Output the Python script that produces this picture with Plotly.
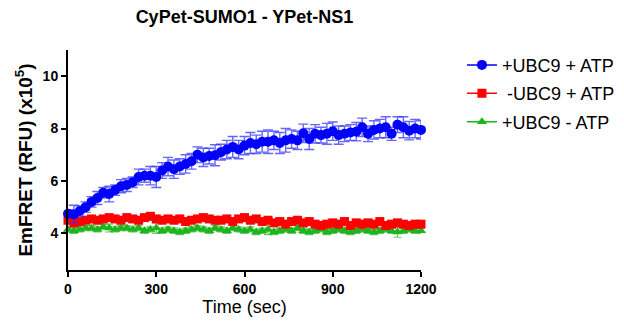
import plotly.graph_objects as go

time_sec = list(range(0, 1201, 20))

ubc9_atp = [4.75, 4.72, 4.85, 5.0, 5.2, 5.35, 5.55, 5.5, 5.65, 5.8,
            5.85, 5.95, 6.15, 6.2, 6.2, 6.15, 6.4, 6.55, 6.45, 6.55,
            6.65, 6.75, 7.0, 6.9, 6.95, 6.98, 7.1, 7.2, 7.3, 7.2,
            7.35, 7.45, 7.4, 7.5, 7.5, 7.55, 7.45, 7.55, 7.6, 7.55,
            7.82, 7.6, 7.8, 7.75, 7.8, 7.9, 7.75, 7.8, 7.85, 7.88,
            8.05, 7.8, 7.95, 8.0, 8.05, 7.8, 8.15, 8.05, 7.92, 8.0, 7.95]
ubc9_atp_err = [0.15, 0.35, 0.2, 0.2, 0.2, 0.25, 0.2, 0.3, 0.2, 0.25,
                0.25, 0.2, 0.3, 0.25, 0.35, 0.4, 0.3, 0.35, 0.35, 0.3,
                0.35, 0.3, 0.3, 0.35, 0.3, 0.4, 0.3, 0.35, 0.4, 0.35,
                0.35, 0.4, 0.35, 0.4, 0.45, 0.35, 0.4, 0.45, 0.35, 0.35,
                0.35, 0.4, 0.35, 0.3, 0.4, 0.35, 0.35, 0.3, 0.3, 0.35,
                0.35, 0.3, 0.35, 0.35, 0.4, 0.25, 0.3, 0.4, 0.35, 0.35, 0.35]

no_ubc9_atp = [4.5, 4.4, 4.45, 4.5, 4.55, 4.5, 4.55, 4.6, 4.55, 4.5,
               4.6, 4.55, 4.5, 4.6, 4.65, 4.55, 4.5, 4.55, 4.5, 4.55,
               4.45, 4.5, 4.55, 4.6, 4.55, 4.5, 4.5, 4.55, 4.45, 4.55,
               4.6, 4.5, 4.55, 4.45, 4.5, 4.4, 4.45, 4.35, 4.45, 4.5,
               4.4, 4.45, 4.35, 4.3, 4.35, 4.4, 4.35, 4.45, 4.3, 4.4,
               4.35, 4.4, 4.35, 4.45, 4.3, 4.35, 4.4, 4.35, 4.3, 4.35, 4.35]
no_ubc9_atp_err = [0.12, 0.15, 0.1, 0.1, 0.1, 0.1, 0.1, 0.1, 0.1, 0.1,
                   0.1, 0.1, 0.1, 0.1, 0.1, 0.1, 0.1, 0.1, 0.1, 0.1,
                   0.1, 0.1, 0.1, 0.1, 0.1, 0.1, 0.1, 0.1, 0.1, 0.1,
                   0.1, 0.1, 0.1, 0.1, 0.1, 0.1, 0.1, 0.1, 0.1, 0.1,
                   0.1, 0.1, 0.1, 0.1, 0.1, 0.1, 0.1, 0.1, 0.1, 0.1,
                   0.1, 0.1, 0.1, 0.1, 0.1, 0.1, 0.1, 0.1, 0.1, 0.1, 0.1]

ubc9_no_atp = [4.15, 4.1, 4.15, 4.2, 4.2, 4.15, 4.25, 4.2, 4.15, 4.2,
               4.2, 4.15, 4.2, 4.1, 4.15, 4.2, 4.1, 4.15, 4.1, 4.05,
               4.1, 4.15, 4.2, 4.15, 4.1, 4.2, 4.15, 4.1, 4.2, 4.15,
               4.1, 4.15, 4.05, 4.1, 4.15, 4.05, 4.1, 4.15, 4.1, 4.2,
               4.1, 4.05, 4.1, 4.15, 4.05, 4.1, 4.15, 4.1, 4.05, 4.1,
               4.15, 4.1, 4.05, 4.1, 4.15, 4.1, 4.05, 4.1, 4.15, 4.1, 4.1]
ubc9_no_atp_err = [0.1, 0.1, 0.1, 0.1, 0.1, 0.1, 0.1, 0.15, 0.1, 0.1,
                   0.1, 0.1, 0.1, 0.1, 0.1, 0.2, 0.1, 0.1, 0.1, 0.1,
                   0.1, 0.1, 0.1, 0.1, 0.1, 0.1, 0.1, 0.1, 0.1, 0.1,
                   0.1, 0.1, 0.1, 0.1, 0.2, 0.1, 0.1, 0.1, 0.1, 0.1,
                   0.1, 0.1, 0.1, 0.1, 0.1, 0.1, 0.1, 0.1, 0.1, 0.1,
                   0.1, 0.1, 0.1, 0.1, 0.1, 0.1, 0.2, 0.1, 0.1, 0.1, 0.1]

series_names = ["+UBC9 + ATP", " -UBC9 + ATP", "+UBC9 - ATP"]
x_ticks = [0, 300, 600, 900, 1200]
y_ticks = [4, 6, 8, 10]

fig = go.Figure()

# draw green first, then red, then blue (blue on top)
fig.add_trace(go.Scatter(
    x=time_sec, y=ubc9_no_atp, name=series_names[2], mode="lines+markers",
    line=dict(color="#1DB51D", width=1.5),
    marker=dict(symbol="triangle-up", size=9, color="#1DB51D"),
    error_y=dict(type="data", array=ubc9_no_atp_err, color="rgba(29,181,29,0.7)", thickness=1.2, width=4),
    cliponaxis=False, legendrank=3, legendgroup="c"))
fig.add_trace(go.Scatter(
    x=time_sec, y=no_ubc9_atp, name=series_names[1], mode="lines+markers",
    line=dict(color="#FF0000", width=1.5),
    marker=dict(symbol="square", size=9, color="#FF0000"),
    error_y=dict(type="data", array=no_ubc9_atp_err, color="rgba(255,0,0,0.7)", thickness=1.2, width=4),
    cliponaxis=False, legendrank=2, legendgroup="b"))
fig.add_trace(go.Scatter(
    x=time_sec, y=ubc9_atp, name=series_names[0], mode="lines+markers",
    line=dict(color="#0000FF", width=1.5),
    marker=dict(symbol="circle", size=10, color="#0000FF"),
    error_y=dict(type="data", array=ubc9_atp_err, color="rgba(50,50,255,0.75)", thickness=1.4, width=5),
    cliponaxis=False, legendrank=1, legendgroup="a"))

font_family = "Arial, Liberation Sans, sans-serif"

fig.update_layout(
    width=624, height=326,
    margin=dict(l=68, r=203, t=50, b=56, autoexpand=False),
    plot_bgcolor="white", paper_bgcolor="white",
    font=dict(family=font_family, color="black"),
    title=dict(text="<b>CyPet-SUMO1 - YPet-NS1</b>", x=0.5, xref="paper",
               y=1 - 17 / 326, yanchor="middle", xanchor="center",
               font=dict(size=18, family=font_family, color="black")),
    xaxis=dict(range=[0, 1200], tickvals=x_ticks, ticktext=[f"<b>{v}</b>" for v in x_ticks],
               showline=True, linecolor="black", linewidth=2, ticks="outside",
               ticklen=5, tickwidth=1.5, tickcolor="black", showgrid=False, zeroline=False,
               tickfont=dict(size=14),
               title=dict(text="Time (sec)", font=dict(size=18), standoff=2)),
    yaxis=dict(range=[2.6, 11], tickvals=y_ticks, ticktext=[f"<b>{v}</b>" for v in y_ticks],
               showline=True, linecolor="black", linewidth=2, ticks="outside",
               ticklen=5, tickwidth=1.5, tickcolor="black", showgrid=False, zeroline=False,
               tickfont=dict(size=14),
               title=dict(text="<b>EmFRET (RFU) (x10<sup>5</sup>)</b>", font=dict(size=19), standoff=5)),
    legend=dict(x=1.116, y=1.015, xanchor="left", yanchor="top",
                font=dict(size=18), traceorder="grouped", tracegroupgap=2,
                bgcolor="rgba(0,0,0,0)"),
)

fig.write_html("out.html")
